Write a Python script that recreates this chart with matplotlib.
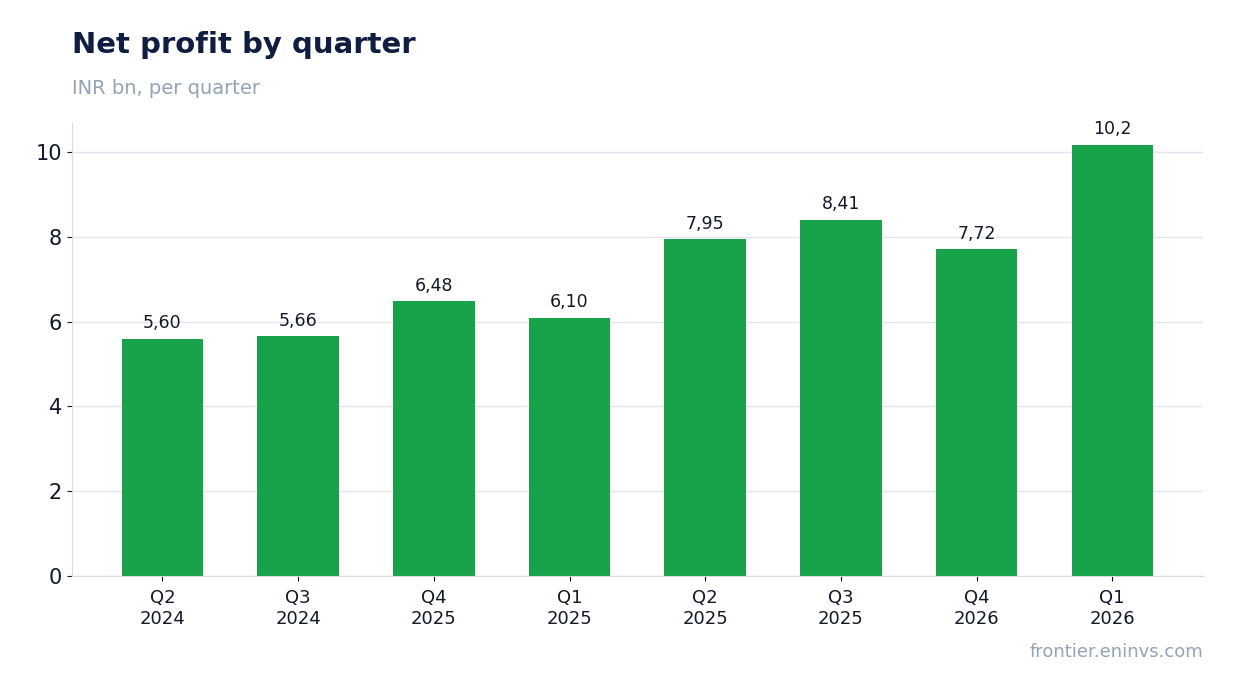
import matplotlib.pyplot as plt

quarters = ["Q2\n2024", "Q3\n2024", "Q4\n2025", "Q1\n2025", "Q2\n2025", "Q3\n2025", "Q4\n2026", "Q1\n2026"]
profit = [5.60, 5.66, 6.48, 6.10, 7.95, 8.41, 7.72, 10.18]
labels = ["5,60", "5,66", "6,48", "6,10", "7,95", "8,41", "7,72", "10,2"]

fig = plt.figure(figsize=(12.34, 6.93), dpi=100)
ax = fig.add_axes([0.058, 0.169, 0.917, 0.654])

x = range(len(quarters))
ax.bar(x, profit, width=0.6, color="#18a34a", zorder=2)
for i, (v, t) in enumerate(zip(profit, labels)):
    ax.text(i, v + 0.15, t, ha="center", va="bottom", fontsize=12.5, color="#111827")

ax.set_xlim(-0.67, 7.67)
ax.set_ylim(0, 10.7)
ax.set_xticks(list(x))
ax.set_xticklabels(quarters, fontsize=13, color="#111827")
ax.set_yticks([0, 2, 4, 6, 8, 10])
ax.tick_params(axis="y", labelsize=15, colors="#111827")
ax.tick_params(axis="x", pad=6)
ax.grid(axis="y", color="#e2e5ec", lw=1, zorder=0)
for s in ["top", "right"]:
    ax.spines[s].set_visible(False)
for s in ["left", "bottom"]:
    ax.spines[s].set_color("#d8dbe3")

fig.text(0.058, 0.935, "Net profit by quarter", fontsize=21, fontweight="bold",
         color="#0f1d40", va="center")
fig.text(0.058, 0.873, "INR bn, per quarter", fontsize=14, color="#94a3b8", va="center")
fig.text(0.975, 0.059, "frontier.eninvs.com", fontsize=13, color="#94a3b8",
         ha="right", va="center")

fig.savefig("out.png", dpi=100)
